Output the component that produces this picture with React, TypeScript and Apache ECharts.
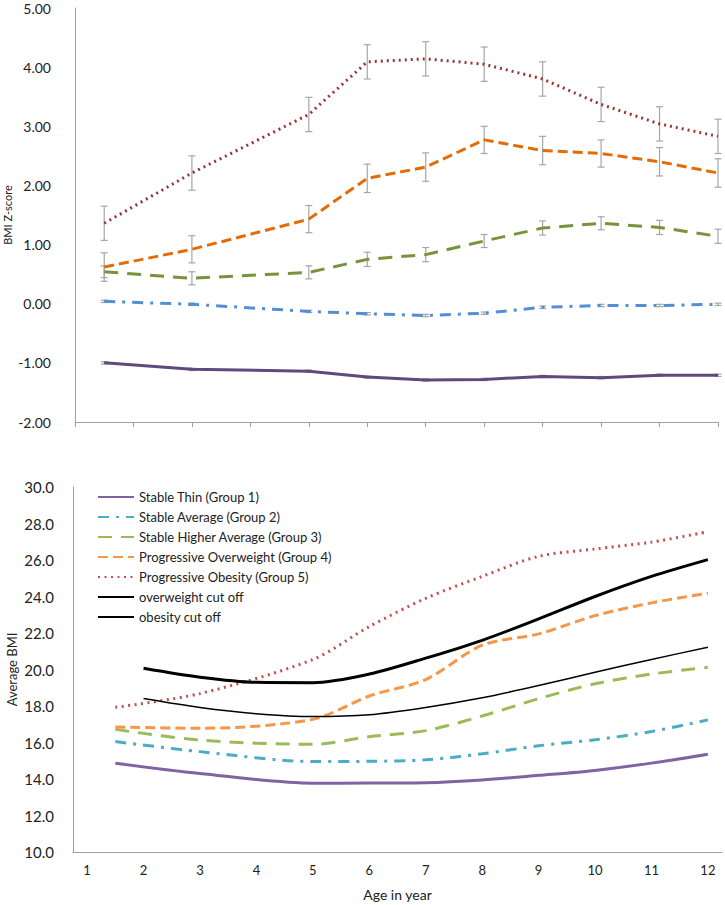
import React, { useEffect, useRef } from "react";
import * as echarts from "echarts";

const ages = [1.5, 3, 5, 6, 7, 8, 9, 10, 11, 12];
const cutAges = [2, 3, 4, 5, 6, 7, 8, 9, 10, 11, 12];
const xLabels = [1, 2, 3, 4, 5, 6, 7, 8, 9, 10, 11, 12];

// Top panel: BMI z-score
const zThin = [-1.0, -1.11, -1.14, -1.24, -1.29, -1.28, -1.23, -1.25, -1.21, -1.21];
const zAvg = [0.04, -0.01, -0.13, -0.17, -0.2, -0.16, -0.06, -0.03, -0.03, -0.01];
const zHigh = [0.54, 0.43, 0.53, 0.75, 0.83, 1.06, 1.28, 1.36, 1.29, 1.14];
const zOver = [0.62, 0.92, 1.43, 2.12, 2.31, 2.77, 2.59, 2.54, 2.4, 2.21];
const zObese = [1.36, 2.21, 3.2, 4.09, 4.14, 4.05, 3.8, 3.37, 3.04, 2.83];

// error bar half-widths
const eThin = [0.02, 0.02, 0.02, 0.02, 0.02, 0.02, 0.02, 0.02, 0.02, 0.02];
const eAvg = [0.02, 0.02, 0.02, 0.02, 0.02, 0.02, 0.02, 0.02, 0.02, 0.02];
const eHigh = [0.1, 0.11, 0.11, 0.12, 0.12, 0.11, 0.12, 0.11, 0.12, 0.12];
const eOver = [0.24, 0.23, 0.23, 0.24, 0.24, 0.23, 0.24, 0.23, 0.24, 0.24];
const eObese = [0.29, 0.29, 0.29, 0.29, 0.29, 0.29, 0.29, 0.29, 0.29, 0.29];

// Bottom panel: average BMI
const bThin = [14.86, 14.3, 13.77, 13.78, 13.8, 13.95, 14.2, 14.47, 14.87, 15.36];
const bAvg = [16.05, 15.5, 14.96, 14.97, 15.05, 15.38, 15.82, 16.15, 16.6, 17.24];
const bHigh = [16.72, 16.13, 15.9, 16.32, 16.65, 17.45, 18.4, 19.22, 19.75, 20.12];
const bOver = [16.85, 16.78, 17.27, 18.55, 19.45, 21.33, 21.95, 22.95, 23.65, 24.18];
const bObese = [17.93, 18.68, 20.55, 22.35, 23.9, 25.1, 26.2, 26.6, 26.98, 27.55];
const overCut = [18.41, 17.92, 17.58, 17.42, 17.52, 17.92, 18.45, 19.12, 19.85, 20.55, 21.22];
const obeseCut = [20.07, 19.58, 19.3, 19.28, 19.75, 20.62, 21.6, 22.77, 24.0, 25.1, 26.02];

const names = [
  "Stable Thin (Group 1)",
  "Stable Average (Group 2)",
  "Stable Higher Average (Group 3)",
  "Progressive Overweight (Group 4)",
  "Progressive Obesity (Group 5)",
  "overweight cut off",
  "obesity cut off",
];

const FONT = "Lato";

export default function App() {
  const ref = useRef<HTMLDivElement>(null);
  useEffect(() => {
    if (!ref.current) return;
    const chart = echarts.init(ref.current, null, { renderer: "svg" });
    const pair = (xs: number[], ys: number[]) => xs.map((x, i) => [x, ys[i]]);
    const errData = (ys: number[], es: number[]) =>
      ages.map((x, i) => [x, ys[i] - es[i], ys[i] + es[i]]);

    const topStyles = [
      { color: "#5f4a7d", type: "solid" },
      { color: "#558ed5", type: [11, 7, 3, 7] },
      { color: "#77933c", type: [14, 9] },
      { color: "#e36c09", type: [10, 5] },
      { color: "#953735", type: [2, 4] },
    ];
    const topData = [zThin, zAvg, zHigh, zOver, zObese];
    const topErr = [eThin, eAvg, eHigh, eOver, eObese];

    const botStyles = [
      { color: "#8064a2", type: "solid", width: 3 },
      { color: "#4bacc6", type: [11, 7, 3, 7], width: 3 },
      { color: "#9bbb59", type: [14, 9], width: 3 },
      { color: "#f79646", type: [10, 5], width: 3 },
      { color: "#c0504d", type: [2, 4.5], width: 3 },
      { color: "#000000", type: "solid", width: 1.5 },
      { color: "#000000", type: "solid", width: 3 },
    ];
    const botData = [
      pair(ages, bThin),
      pair(ages, bAvg),
      pair(ages, bHigh),
      pair(ages, bOver),
      pair(ages, bObese),
      pair(cutAges, overCut),
      pair(cutAges, obeseCut),
    ];

    const series: any[] = [];
    topErr.forEach((es, gi) => {
      series.push({
        type: "custom",
        name: "err" + gi,
        xAxisIndex: 0,
        yAxisIndex: 0,
        z: 1,
        data: errData(topData[gi], es),
        renderItem: (params: any, api: any) => {
          const x = api.value(0);
          const lo = api.coord([x, api.value(1)]);
          const hi = api.coord([x, api.value(2)]);
          const cap = 3.5;
          const st = { stroke: "#a6a6a6", lineWidth: 1.2 };
          return {
            type: "group",
            children: [
              { type: "line", shape: { x1: hi[0], y1: hi[1], x2: lo[0], y2: lo[1] }, style: st },
              { type: "line", shape: { x1: hi[0] - cap, y1: hi[1], x2: hi[0] + cap, y2: hi[1] }, style: st },
              { type: "line", shape: { x1: lo[0] - cap, y1: lo[1], x2: lo[0] + cap, y2: lo[1] }, style: st },
            ],
          };
        },
      });
    });
    topData.forEach((ys, gi) => {
      series.push({
        type: "line",
        name: "z" + gi,
        xAxisIndex: 0,
        yAxisIndex: 0,
        z: 2,
        symbol: "none",
        data: pair(ages, ys),
        lineStyle: { color: topStyles[gi].color, type: topStyles[gi].type, width: 3 },
        itemStyle: { color: topStyles[gi].color },
      });
    });
    botData.forEach((d, gi) => {
      series.push({
        type: "line",
        name: names[gi],
        xAxisIndex: 1,
        yAxisIndex: 1,
        symbol: "none",
        smooth: 0.3,
        data: d,
        lineStyle: { color: botStyles[gi].color, type: botStyles[gi].type, width: botStyles[gi].width },
        itemStyle: { color: botStyles[gi].color },
      });
    });

    const axisLine = { lineStyle: { color: "#a0a0a0", width: 1 } };
    chart.setOption({
      animation: false,
      backgroundColor: "#ffffff",
      textStyle: { fontFamily: FONT },
      legend: {
        data: names,
        orient: "vertical",
        left: 92,
        top: 485,
        itemWidth: 36,
        itemHeight: 12,
        itemGap: 6,
        itemStyle: { opacity: 0 },
        textStyle: { fontFamily: FONT, fontSize: 13, color: "#222", lineHeight: 14 },
      },
      grid: [
        { left: 75, top: 8, width: 643, height: 414, outerBoundsMode: "none", containLabel: false },
        { left: 73, top: 487, width: 649, height: 365, outerBoundsMode: "none", containLabel: false },
      ],
      xAxis: [
        {
          type: "value",
          gridIndex: 0,
          min: 1,
          max: 12,
          interval: 1,
          axisLine: { ...axisLine, onZero: false },
          axisTick: { show: true, length: 5, lineStyle: { color: "#a0a0a0" } },
          axisLabel: { show: false },
          splitLine: { show: false },
        },
        {
          type: "value",
          gridIndex: 1,
          min: 0.75,
          max: 12.25,
          axisLine: { ...axisLine, onZero: false },
          axisTick: { show: false },
          axisLabel: {
            customValues: xLabels,
            fontFamily: FONT,
            fontSize: 13,
            color: "#222",
            margin: 11,
          },
          splitLine: { show: false },
          name: "Age in year",
          nameLocation: "middle",
          nameGap: 35,
          nameMoveOverlap: false,
          nameTextStyle: { fontFamily: FONT, fontSize: 14, color: "#222" },
        },
      ],
      yAxis: [
        {
          type: "value",
          gridIndex: 0,
          min: -2,
          max: 5,
          interval: 1,
          axisLine: { show: true, ...axisLine, onZero: false },
          axisTick: { show: false },
          splitLine: { show: false },
          axisLabel: {
            formatter: (v: number) => v.toFixed(2),
            fontFamily: FONT,
            fontSize: 14,
            color: "#222",
            margin: 24,
          },
          name: "BMI Z-score",
          nameLocation: "middle",
          nameGap: 62,
          nameMoveOverlap: false,
          nameTextStyle: { fontFamily: FONT, fontSize: 11, color: "#222" },
        },
        {
          type: "value",
          gridIndex: 1,
          min: 10,
          max: 30,
          interval: 2,
          axisLine: { show: true, ...axisLine, onZero: false },
          axisTick: { show: false },
          splitLine: { show: false },
          axisLabel: {
            formatter: (v: number) => v.toFixed(1),
            fontFamily: FONT,
            fontSize: 15,
            color: "#222",
            margin: 19,
          },
          name: "Average BMI",
          nameLocation: "middle",
          nameGap: 55,
          nameMoveOverlap: false,
          nameTextStyle: { fontFamily: FONT, fontSize: 13, color: "#222" },
        },
      ],
      series,
    });
    return () => chart.dispose();
  }, []);
  return (
    <div
      ref={ref}
      style={{ position: "fixed", left: 0, top: 0, width: 725, height: 905, background: "#fff" }}
    />
  );
}
